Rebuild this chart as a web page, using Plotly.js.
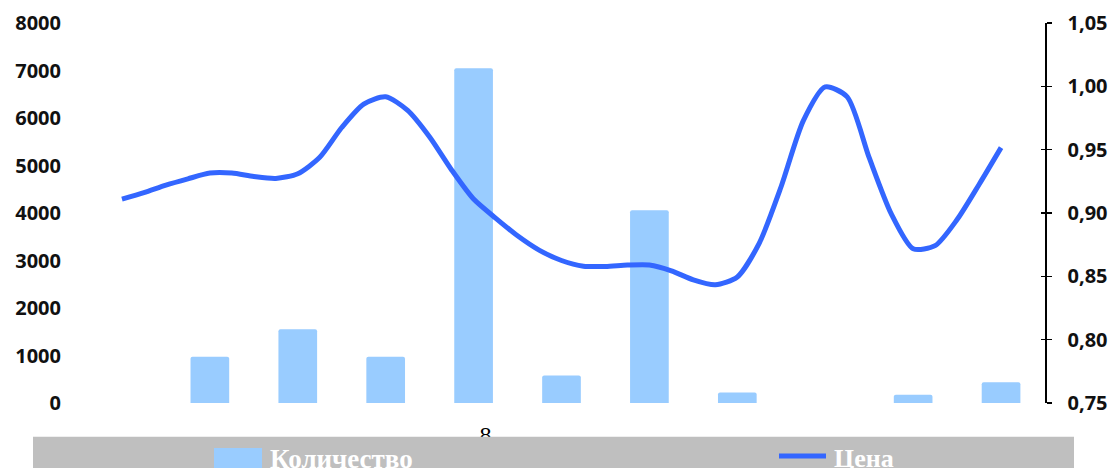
<!DOCTYPE html>
<html>
<head>
<meta charset="utf-8">
<script src="https://cdn.plot.ly/plotly-3.0.1.min.js"></script>
<style>html,body{margin:0;padding:0;background:#fff;}#chart{width:1120px;height:468px;}</style>
</head>
<body>
<div id="chart"></div>
<script>
// ---- data ----
var quantity = [0, 975, 1555, 975, 7045, 580, 4060, 220, 0, 175, 435];
var price = [0.911, 0.916, 0.922, 0.927, 0.9315, 0.9315, 0.9288, 0.9273, 0.931, 0.944,
             0.9675, 0.986, 0.9917, 0.981, 0.960, 0.934, 0.911, 0.896, 0.882, 0.8705,
             0.8625, 0.858, 0.8578, 0.8589, 0.859, 0.8544, 0.8472, 0.8433, 0.8495, 0.8763,
             0.9211, 0.9727, 0.9995, 0.9917, 0.9437, 0.8995, 0.8718, 0.8742, 0.8948, 0.9225,
             0.9516];
var xTickVals = [4.135];
var xTickText = ['8'];
var seriesNames = ['Количество', 'Цена'];

// ---- layout helpers (pixel -> paper) ----
var W = 1120, H = 468, mL = 78, mR = 75, mT = 23, mB = 65;
function px(x){ return (x - mL) / (W - mL - mR); }
function py(y){ return (H - mB - y) / (H - mT - mB); }

var tickFont = {family: 'Open Sans', size: 20, color: '#111', weight: 700};

var traces = [
  {type: 'bar', y: quantity, name: seriesNames[0], width: 0.44,
   marker: {color: '#99CCFF', cornerradius: 2}, xaxis: 'x', yaxis: 'y', showlegend: false},
  {type: 'scatter', mode: 'lines', y: price, name: seriesNames[1],
   line: {color: '#3366FF', width: 5, shape: 'spline', smoothing: 0.7},
   xaxis: 'x2', yaxis: 'y2', showlegend: false}
];

var layout = {
  width: W, height: H,
  margin: {l: mL, r: mR, t: mT, b: mB, pad: 0},
  paper_bgcolor: '#fff', plot_bgcolor: 'rgba(0,0,0,0)',
  separators: ', ',
  showlegend: false,
  xaxis: {range: [-0.5, 10.5], tickvals: xTickVals, ticktext: xTickText, ticks: '',
          showgrid: false, zeroline: false, showline: false, ticklabelstandoff: 15,
          tickfont: {family: 'Liberation Serif', size: 24, color: '#000'}},
  xaxis2: {range: [-2, 42], overlaying: 'x', visible: false},
  yaxis: {range: [0, 8000], dtick: 1000, showgrid: false, zeroline: false, ticks: '',
          showline: false, tickfont: tickFont, ticklabelstandoff: 16},
  yaxis2: {range: [0.75, 1.05], dtick: 0.05, tick0: 0.75, tickformat: '.2f', overlaying: 'y', side: 'right',
           showgrid: false, zeroline: false, showline: true, linecolor: '#000', linewidth: 1.5,
           ticks: 'outside', ticklen: 5, tickwidth: 1.5, tickcolor: '#000',
           tickfont: tickFont, ticklabelstandoff: 12},
  yaxis3: {range: [0.75, 1.05], dtick: 0.05, tick0: 0.75, overlaying: 'y', side: 'right', anchor: 'x',
           showgrid: false, zeroline: false, showline: false, showticklabels: false,
           ticks: 'inside', ticklen: 4, tickwidth: 1.5, tickcolor: '#000'},
  shapes: [
    {type: 'rect', xref: 'paper', yref: 'paper', layer: 'above',
     x0: px(33), x1: px(1074), y0: py(436.7), y1: py(472),
     fillcolor: '#BFBFBF', line: {width: 0}},
    {type: 'rect', xref: 'paper', yref: 'paper', layer: 'above',
     x0: px(214), x1: px(262), y0: py(448), y1: py(471),
     fillcolor: '#99CCFF', line: {width: 0}},
    {type: 'line', xref: 'paper', yref: 'paper', layer: 'above',
     x0: px(779), x1: px(826), y0: py(456), y1: py(456),
     line: {color: '#3366FF', width: 5}}
  ],
  annotations: [
    {xref: 'paper', yref: 'paper', x: px(268), y: py(442), xanchor: 'left', yanchor: 'top',
     text: '<b>' + seriesNames[0] + '</b>', showarrow: false,
     font: {family: 'Liberation Serif', size: 27, color: '#fff'}},
    {xref: 'paper', yref: 'paper', x: px(832), y: py(442), xanchor: 'left', yanchor: 'top',
     text: '<b>' + seriesNames[1] + '</b>', showarrow: false,
     font: {family: 'Liberation Serif', size: 26, color: '#fff'}}
  ]
};

// invisible empty trace so the crossing-tick axis is drawn
traces.push({type: 'scatter', mode: 'markers', x: [], y: [], xaxis: 'x', yaxis: 'y3', showlegend: false, hoverinfo: 'skip'});

Plotly.newPlot('chart', traces, layout, {displayModeBar: false, staticPlot: true});
</script>
</body>
</html>
